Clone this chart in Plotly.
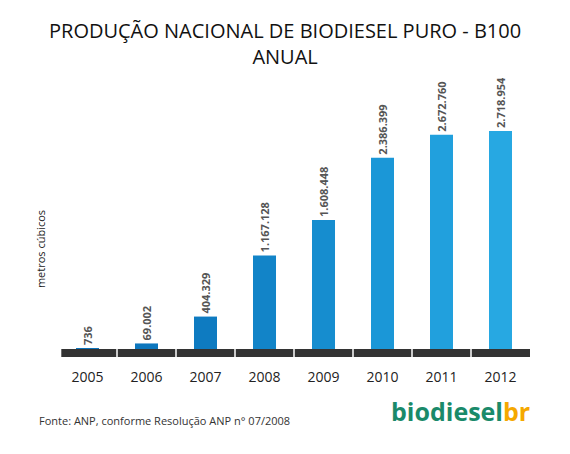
import plotly.graph_objects as go

years = ["2005","2006","2007","2008","2009","2010","2011","2012"]
values = [736, 69002, 404329, 1167128, 1608448, 2386399, 2672760, 2718954]
labels = ["736","69.002","404.329","1.167.128","1.608.448","2.386.399","2.672.760","2.718.954"]
colors = ["#0b73bb","#0c76bd","#0e7bc1","#1284c8","#168dcf","#1b97d7","#21a0dd","#27a8e2"]

fig = go.Figure(go.Bar(
    x=years, y=values, text=labels, textposition="outside", textangle=-90,
    texttemplate="%{text}\u00a0\u00a0",
    marker=dict(color=colors, line=dict(width=0)), width=0.39, cliponaxis=False,
    outsidetextfont=dict(family="Open Sans", size=11, color="#555555", weight="bold"),
))
shapes = [dict(type="rect", xref="paper", yref="y", x0=0.007, x1=1, y0=-100000, y1=0,
               fillcolor="#333333", line=dict(width=0), layer="below")]
for i in range(1, len(years)):
    shapes.append(dict(type="line", xref="x", yref="y", x0=i-0.5, x1=i-0.5, y0=-100000, y1=0,
                       line=dict(color="white", width=1.5)))
fig.update_layout(
    width=570, height=454, margin=dict(l=50, r=48, t=72, b=105, autoexpand=False),
    paper_bgcolor="white", plot_bgcolor="white", showlegend=False, shapes=shapes,
    uniformtext=dict(minsize=11, mode="show"),
    xaxis=dict(showgrid=False, showline=False, ticks="", ticklabelstandoff=10,
               tickfont=dict(family="Open Sans", size=14, color="#222")),
    yaxis=dict(range=[-100000, 3355000], visible=False),
    annotations=[
        dict(text="PRODUÇÃO NACIONAL DE BIODIESEL PURO - B100<br>ANUAL", xref="paper", yref="paper",
             x=0.48, y=1.0, yshift=65, xanchor="center", yanchor="top", showarrow=False,
             font=dict(family="Open Sans", size=20, color="#111")),
        dict(text="metros cúbicos", xref="paper", yref="paper", x=-0.057, y=0.24, textangle=-90, showarrow=False,
             font=dict(family="Open Sans", size=11, color="#222")),
        dict(text="Fonte: ANP, conforme Resolução ANP n° 07/2008", xref="paper", yref="paper", x=-0.045, y=-0.265,
             xanchor="left", showarrow=False, font=dict(family="Open Sans", size=11, color="#333")),
        dict(text="<b><span style='color:#1a8a6a'>biodiesel</span><span style='color:#f5a800'>br</span></b>",
             xref="paper", yref="paper", x=1.005, y=-0.265, xanchor="right", showarrow=False,
             font=dict(family="Open Sans", size=25)),
    ],
)
fig.write_html("out.html")
